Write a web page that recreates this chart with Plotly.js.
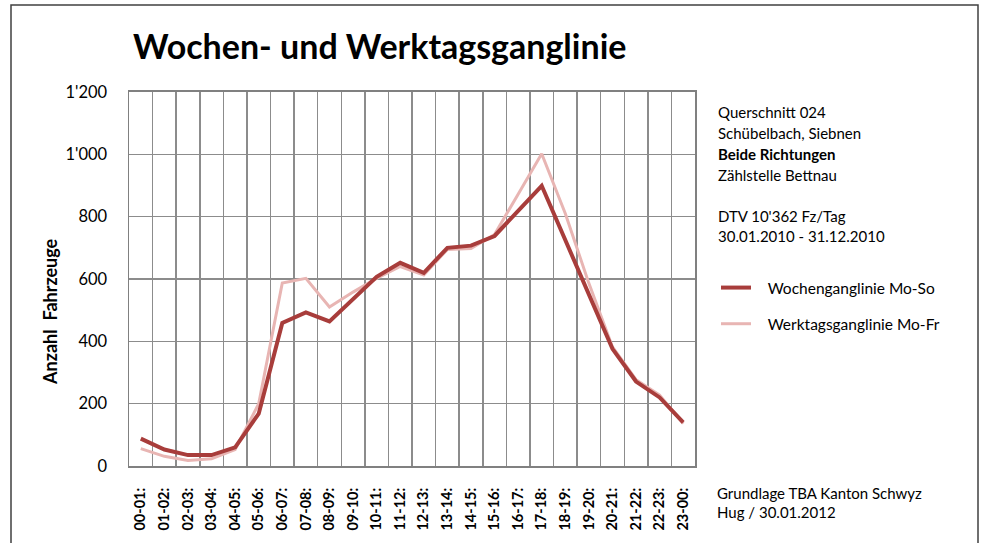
<!DOCTYPE html>
<html>
<head>
<meta charset="utf-8">
<script src="https://cdn.plot.ly/plotly-3.0.1.min.js"></script>
<style>html,body{margin:0;padding:0;background:#fff;}#chart{width:985px;height:543px;}</style>
</head>
<body>
<div id="chart"></div>
<script>
const hours = ["00-01:","01-02:","02-03:","03-04:","04-05:","05-06:","06-07:","07-08:","08-09:","09-10:","10-11:","11-12:","12-13:","13-14:","14-15:","15-16:","16-17:","17-18:","18-19:","19-20:","20-21:","21-22:","22-23:","23-00:"];
const wochenganglinie = [88, 53, 35, 35, 60, 168, 459, 493, 464, 537, 607, 652, 620, 700, 707, 738, 820, 899, 725, 549, 376, 271, 220, 140];
const werktagsganglinie = [56, 31, 18, 23, 53, 200, 587, 602, 510, 558, 602, 640, 613, 695, 698, 743, 872, 1002, 810, 586, 382, 277, 227, 136];
const seriesNames = ["Wochenganglinie Mo-So", "Werktagsganglinie Mo-Fr"];
const infoLines = ["Querschnitt 024", "Schübelbach, Siebnen", "<b>Beide Richtungen</b>", "Zählstelle Bettnau", "DTV 10'362 Fz/Tag", "30.01.2010 - 31.12.2010"];
const footLines = ["Grundlage TBA Kanton Schwyz", "Hug / 30.01.2012"];

const FONT = "Lato, 'Liberation Sans', sans-serif";
const W = 985, H = 543;
const L = 129, R = 695, T = 92, B = 466;
const px = x => (x - L) / (R - L);
const py = y => (B - y) / (B - T);
const pad = '\u00a0\u00a0\u00a0';

const traces = [
  {x: hours, y: werktagsganglinie, name: pad + seriesNames[1], type: 'scatter', mode: 'lines',
   line: {color: '#e8b5b3', width: 3}, legendgroup: 'b', legendrank: 2},
  {x: hours, y: wochenganglinie, name: pad + seriesNames[0], type: 'scatter', mode: 'lines',
   line: {color: '#a83d3b', width: 4}, legendgroup: 'a', legendrank: 1}
];

const infoY = [112, 133, 154, 175, 216, 236];
const annotations = [];
infoLines.forEach((t, i) => annotations.push({
  text: t, xref: 'paper', yref: 'paper', x: px(716), y: py(infoY[i]), xanchor: 'left', yanchor: 'middle',
  showarrow: false, font: {family: FONT, size: 15, color: '#000'}
}));
const footY = [493, 512];
footLines.forEach((t, i) => annotations.push({
  text: t, xref: 'paper', yref: 'paper', x: px(715), y: py(footY[i]), xanchor: 'left', yanchor: 'middle',
  showarrow: false, font: {family: FONT, size: 15, color: '#000'}
}));
annotations.push({
  text: '<b>Anzahl  Fahrzeuge</b>', xref: 'paper', yref: 'paper', x: px(50), y: py(312),
  xanchor: 'center', yanchor: 'middle', textangle: -90, showarrow: false,
  font: {family: FONT, size: 18, color: '#000'}
});

const layout = {
  width: W, height: H,
  margin: {l: L, r: W - R, t: T, b: H - B},
  paper_bgcolor: '#fff', plot_bgcolor: '#fff',
  separators: ".'",
  font: {family: FONT, color: '#000'},
  title: {text: '<b>Wochen- und Werktagsganglinie</b>', xref: 'container', yref: 'container',
          x: 133 / W, xanchor: 'left', y: 1 - 47 / H, yanchor: 'middle',
          font: {family: FONT, size: 34, color: '#000'}},
  xaxis: {
    type: 'category', tickson: 'boundaries', range: [-0.5, 23.5],
    showgrid: true, gridcolor: '#8c8c8c', gridwidth: 1.5,
    showline: true, linecolor: '#808080', linewidth: 2, mirror: true,
    ticks: '', tickangle: -90, ticklabelstandoff: 14,
    tickfont: {family: FONT, size: 14.5, color: '#000', weight: 'bold'},
    zeroline: false, fixedrange: true
  },
  yaxis: {
    range: [0, 1200], dtick: 200, tick0: 0, tickformat: ',d',
    showgrid: true, gridcolor: '#8c8c8c', gridwidth: 1.5,
    showline: true, linecolor: '#808080', linewidth: 1.5, mirror: true,
    ticks: '', ticklabelstandoff: 17,
    tickfont: {family: FONT, size: 16.5, color: '#000'},
    zeroline: false, fixedrange: true
  },
  showlegend: true,
  legend: {x: px(716), y: py(271), xanchor: 'left', yanchor: 'top', traceorder: 'grouped',
           tracegroupgap: 13, itemwidth: 30, bgcolor: 'rgba(0,0,0,0)',
           font: {family: FONT, size: 15.5, color: '#000'}},
  annotations: annotations,
  shapes: [{type: 'rect', xref: 'paper', yref: 'paper', x0: px(11), x1: px(978), y0: py(5), y1: py(560),
            line: {color: '#404040', width: 1.5}, fillcolor: 'rgba(0,0,0,0)', layer: 'below'}]
};

Plotly.newPlot('chart', traces, layout, {displayModeBar: false, staticPlot: true});
</script>
</body>
</html>
